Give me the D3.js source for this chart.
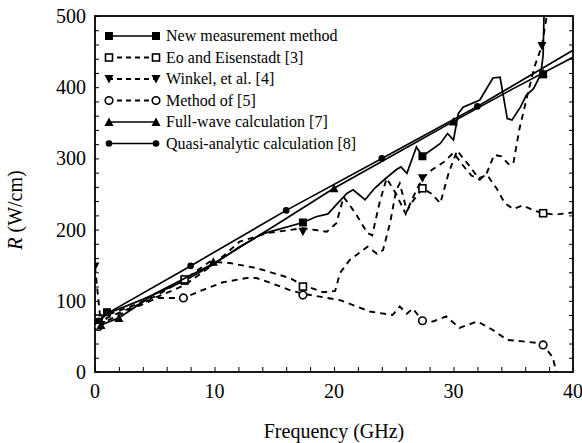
<!DOCTYPE html>
<html><head><meta charset="utf-8">
<script src="https://cdn.jsdelivr.net/npm/d3@7/dist/d3.min.js"></script>
<style>body{margin:0;background:#fff}svg{display:block}</style>
</head><body><svg id="c" width="582" height="443"></svg>
<script>
const xTicks=[0,10,20,30,40];
const yTicks=[0,100,200,300,400,500];
const seriesNames=["New measurement method","Eo and Eisenstadt [3]","Winkel, et al. [4]","Method of [5]","Full-wave calculation [7]","Quasi-analytic calculation [8]"];
// [frequency GHz, R W/cm]
const newMeas=[[0.3,70],[1,82],[4,102],[7.5,128],[10,152],[12,175],[14,194],[15.5,201],[17.4,210],[18.5,218],[19.5,222],[20.2,235],[21.1,251],[21.6,256],[22.6,242],[23.4,258],[24.2,270],[25.2,284],[25.6,288],[26.1,279],[26.9,316],[27.4,303],[28.9,321],[29.5,335],[30,326],[30.4,363],[30.8,372],[32.2,382],[33.3,413],[33.9,414],[34.5,356],[34.9,354],[35.6,372],[36.1,389],[36.7,398],[37.3,418],[37.5,445],[37.6,520]];
const newMarks=[[0.3,70],[1,84],[7.5,128],[17.4,210],[27.4,303],[37.5,418]];
const eo=[[0.3,75],[1,80],[3,92],[5,106],[7.5,130],[9.6,155],[11.3,153],[13.5,146],[16.3,132],[17.4,122],[19.1,112],[20.1,114],[20.5,139],[21.3,157],[22.8,176],[23.6,166],[24.1,171],[24.7,210],[25.2,255],[25.5,265],[26.1,226],[26.6,240],[27.4,258],[28.2,250],[28.9,237],[29.6,280],[30.3,311],[31.4,288],[32.1,272],[32.8,277],[33.6,258],[34.3,237],[35,229],[35.8,234],[36.7,227],[37.5,223],[38.5,221],[40,224]];
const eoMarks=[[0.3,75],[7.5,130],[17.4,120],[27.4,258],[37.5,223]];
const winkel=[[0,148],[0.5,66],[1,76],[3,90],[5,104],[7.5,122],[10,152],[12.1,183],[14.4,195],[17.4,202],[18.6,199],[19.4,197],[20.2,209],[20.8,246],[21.8,223],[22.8,195],[23.2,192],[23.8,237],[24.4,272],[25.2,250],[26,222],[26.6,245],[27.4,272],[28.2,284],[29.2,295],[30,308],[30.8,290],[31.5,276],[32.2,270],[32.8,280],[33.4,305],[34,303],[34.6,292],[35,292],[35.5,340],[36.2,390],[36.8,430],[37.4,458],[37.8,500],[38,520]];
const winkelMarks=[[0,148],[0.5,66],[17.4,197],[27.4,272],[37.4,458]];
const method5=[[0.3,64],[1,72],[3,88],[5.2,104],[7.4,104],[9,115],[10.7,126],[12.7,132],[13.5,132],[14.4,127],[16.3,115],[17.4,110],[19.1,105],[20.5,101],[23,85],[24.9,80],[25.5,92],[26.1,82],[26.6,89],[27.4,72],[28.3,71],[29.4,78],[30.5,62],[32,71],[33.3,59],[34.5,45],[35.8,43],[37.4,40],[38.3,21],[38.6,0]];
const method5Marks=[[0.3,64],[7.4,104],[17.4,108],[27.4,72],[37.5,38]];
const fullWave=[[0.5,66],[2,76],[5,110],[10,153],[15,205],[20,258],[25,305],[30,352],[35,398],[40,442]];
const fullWaveMarks=[[0.5,66],[2,76],[9.9,155],[20,258],[30,352],[37.5,420]];
const quasi=[[0.3,72],[1,82],[8,149],[16,227],[24,300],[32,373],[40,452]];
const quasiMarks=[[0.3,72],[8,149],[16,227],[24,300],[32,373]];

const FONT="Liberation Serif";
const svg=d3.select("#c");
function T(sel){return sel.attr("font-family",FONT).attr("style","font-family:'Liberation Serif'").attr("fill","#000");}
const x=d3.scaleLinear().domain([0,40]).range([95,573]);
const y=d3.scaleLinear().domain([0,500]).range([372,16]);
svg.append("defs").append("clipPath").attr("id","clip").append("rect")
  .attr("x",95).attr("y",16).attr("width",478).attr("height",356);

// axes
const ax=d3.axisBottom(x).tickValues(d3.range(0,41,2)).tickSize(-5).tickFormat("");
svg.append("g").attr("transform","translate(0,372)").call(ax).call(s=>s.select(".domain").remove()).selectAll("line").attr("stroke","#000");
const ay=d3.axisLeft(y).tickValues(d3.range(0,501,20)).tickSize(-4).tickFormat("");
svg.append("g").attr("transform","translate(95,0)").call(ay).call(s=>s.select(".domain").remove()).selectAll("line").attr("stroke","#000");
const ayr=d3.axisRight(y).tickValues(d3.range(0,501,20)).tickSize(-4).tickFormat("");
svg.append("g").attr("transform","translate(573,0)").call(ayr).call(s=>s.select(".domain").remove()).selectAll("line").attr("stroke","#000");
svg.append("rect").attr("x",95).attr("y",16).attr("width",478).attr("height",356).attr("fill","none").attr("stroke","#000").attr("stroke-width",1.8);

T(svg.append("g").selectAll("text").data(xTicks).join("text"))
  .attr("x",d=>x(d)).attr("y",398).attr("text-anchor","middle").attr("font-size",20).text(d=>d);
T(svg.append("g").selectAll("text").data(yTicks).join("text"))
  .attr("x",86).attr("y",d=>y(d)+7).attr("text-anchor","end").attr("font-size",20).text(d=>d);
T(svg.append("text")).attr("x",334).attr("y",438).attr("text-anchor","middle").attr("font-size",20).text("Frequency (GHz)");
const yl=T(svg.append("text")).attr("transform","translate(22,210) rotate(-90)").attr("text-anchor","middle").attr("font-size",20);
yl.append("tspan").attr("font-style","italic").text("R");
yl.append("tspan").text(" (W/cm)");

const line=d3.line().x(d=>x(d[0])).y(d=>y(d[1]));
const plot=svg.append("g").attr("clip-path","url(#clip)");
const defs=[
 {data:newMeas,marks:newMarks,dash:null,m:"sqf"},
 {data:eo,marks:eoMarks,dash:"6,5",m:"sqo"},
 {data:winkel,marks:winkelMarks,dash:"6,5",m:"tri"},
 {data:method5,marks:method5Marks,dash:"6,5",m:"cir"},
 {data:fullWave,marks:fullWaveMarks,dash:null,m:"triu"},
 {data:quasi,marks:quasiMarks,dash:null,m:"dot"}];
function marker(sel,type,px,py){
  if(type==="sqf") sel.append("rect").attr("x",px-4).attr("y",py-4).attr("width",8).attr("height",8).attr("fill","#000");
  if(type==="sqo") sel.append("rect").attr("x",px-3.5).attr("y",py-3.5).attr("width",7).attr("height",7).attr("fill","#fff").attr("stroke","#000").attr("stroke-width",1.6);
  if(type==="tri") sel.append("path").attr("d",`M${px-4.5},${py-4}L${px+4.5},${py-4}L${px},${py+4.5}Z`).attr("fill","#000");
  if(type==="triu") sel.append("path").attr("d",`M${px-4.5},${py+4}L${px+4.5},${py+4}L${px},${py-4.5}Z`).attr("fill","#000");
  if(type==="cir") sel.append("circle").attr("cx",px).attr("cy",py).attr("r",3.8).attr("fill","#fff").attr("stroke","#000").attr("stroke-width",1.6);
  if(type==="dot") sel.append("circle").attr("cx",px).attr("cy",py).attr("r",3.3).attr("fill","#000");
}
defs.forEach(s=>{
  plot.append("path").attr("d",line(s.data)).attr("fill","none").attr("stroke","#000")
    .attr("stroke-width",s.dash?1.9:1.7).attr("stroke-dasharray",s.dash);
  s.marks.forEach(p=>marker(plot,s.m,x(p[0]),y(p[1])));
});

// legend
const lg=svg.append("g");
defs.forEach((s,i)=>{
  const ly=36+i*21.5;
  lg.append("line").attr("x1",108).attr("x2",157).attr("y1",ly).attr("y2",ly).attr("stroke","#000")
    .attr("stroke-width",s.dash?1.8:1.5).attr("stroke-dasharray",s.dash?"5,4":null);
  marker(lg,s.m,109,ly); marker(lg,s.m,156,ly);
  T(lg.append("text")).attr("x",166).attr("y",ly+5).attr("font-size",16).text(seriesNames[i]);
});
</script></body></html>
